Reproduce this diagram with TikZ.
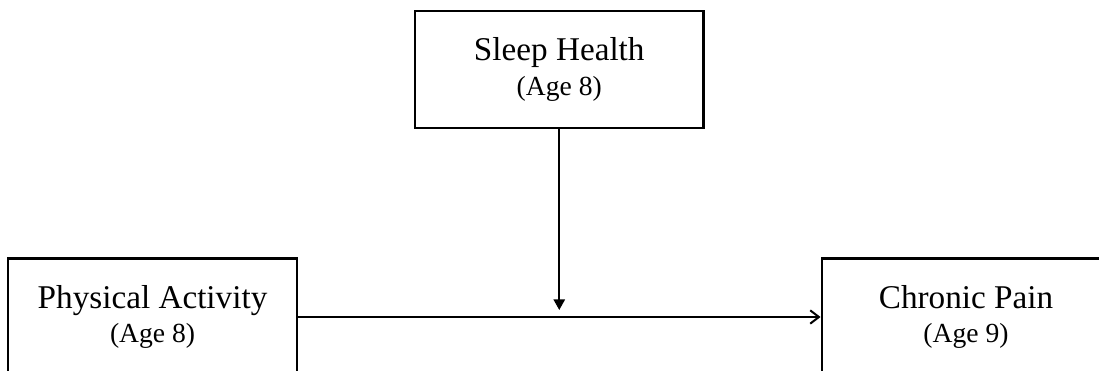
\documentclass[tikz,border=0pt]{standalone}
\usepackage{fontspec}
\setmainfont{Liberation Serif}
\usepackage{tikz}
\usetikzlibrary{arrows.meta}
\usetikzlibrary{positioning}
\usetikzlibrary{calc}

\newcommand{\varname}[2]{#1\\ \fontsize{20.7}{26}\selectfont #2}

\begin{document}
\begin{tikzpicture}[varbox/.style={rectangle, draw, line width=1.7pt, minimum width=216.5pt, minimum height=87.75pt, align=center, inner sep=0pt, font=\fontsize{24.9}{26}\selectfont}, link/.style={line width=1.5pt}]
    \path[use as bounding box, clip] (0,0) rectangle (824.25pt,-278.25pt);

    \node (pa) [varbox] at (114.4pt,-237.75pt) {\varname{Physical Activity}{(Age 8)}};
    \node (cp) [varbox, right=391.9pt of pa] {\varname{Chronic Pain}{(Age 9)}};
    \coordinate (mid) at ($(pa.north)!0.5!(cp.north)$);
    \node (sh) [varbox, above=96pt of mid] {\varname{Sleep Health}{(Age 8)}};
    \coordinate (hit) at ($(pa.east)!0.5!(cp.west)$);

    \draw[link, -{Straight Barb[length=6.5pt, width=10pt, line width=1.5pt]}] (pa.east) -- (cp.west);
    \draw[link, -{Triangle[length=8pt, width=8.5pt]}, shorten >=5.25pt] (sh.south) -- (sh.south |- hit);
\end{tikzpicture}
\end{document}
